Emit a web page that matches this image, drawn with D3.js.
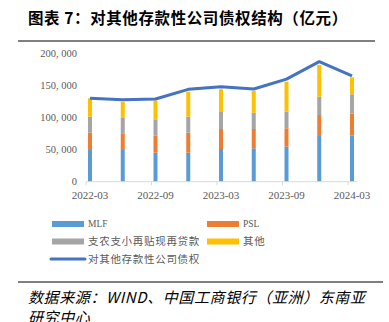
<!DOCTYPE html>
<html>
<head>
<meta charset="utf-8">
<style>
	body { margin: 0; background: #fff; }
	#chart { position: absolute; left: 0; top: 0; }
	text { font-family: "Liberation Serif", "DejaVu Serif", serif; }
	.cjk { font-family: "Noto Sans CJK SC", sans-serif; }
</style>
<script src="https://d3js.org/d3.v7.min.js"></script>
</head>
<body>
<div id="chart"></div>
<script>
	// Data (亿元)
	const quarters = ["2022-03", "2022-06", "2022-09", "2022-12", "2023-03", "2023-06", "2023-09", "2023-12", "2024-03"];
	const tickLabels = ["2022-03", "2022-09", "2023-03", "2023-09", "2024-03"];
	const mlf   = [49300, 49300, 45100, 45100, 50800, 51900, 54400, 71000, 71500];
	const psl   = [26800, 25900, 26400, 31000, 31100, 30000, 28600, 32600, 34200];
	const relend = [24900, 24800, 24400, 24900, 26400, 25300, 25800, 28500, 30100];
	const other = [28600, 24300, 30100, 38900, 35300, 33800, 46600, 49200, 26400];
	const total = [129600, 127400, 128500, 143500, 147500, 144000, 159500, 186500, 164300];
	const yTicks = [0, 50000, 100000, 150000, 200000];

	const seriesNames = ["MLF", "PSL", "支农支小再贴现再贷款", "其他"];
	const seriesColors = ["#5B9BD5", "#ED7D31", "#A5A5A5", "#FFC000"];
	const lineName = "对其他存款性公司债权";
	const lineColor = "#4472C4";

	const W = 389, H = 322;
	const svg = d3.select("#chart").append("svg")
		.attr("width", W).attr("height", H);

	// title
	svg.append("text").attr("class", "cjk")
		.attr("x", 28).attr("y", 24)
		.attr("font-size", "15.5px").attr("font-weight", "bold")
		.attr("letter-spacing", "0.6px")
		.attr("fill", "#000")
		.text("图表 7：对其他存款性公司债权结构（亿元）");
	svg.append("line")
		.attr("x1", 18).attr("x2", 375).attr("y1", 41).attr("y2", 41)
		.attr("stroke", "#555").attr("stroke-width", 1.5);

	// scales
	const x = d3.scalePoint().domain(quarters).range([90, 352]);
	const y = d3.scaleLinear().domain([0, 200000]).range([181.7, 53]);

	// y labels
	svg.selectAll(".ylab").data(yTicks).enter().append("text")
		.attr("x", 77).attr("y", d => y(d)).attr("dy", "0.35em")
		.attr("text-anchor", "end").attr("font-size", "10.5px").attr("fill", "#595959")
		.text(d => d3.format(",")(d).replace(",", ", "));

	// stacked bars
	const rows = quarters.map((q, i) => ({q: q, s0: mlf[i], s1: psl[i], s2: relend[i], s3: other[i]}));
	const stack = d3.stack().keys(["s0", "s1", "s2", "s3"])(rows);
	const barW = 4;
	svg.selectAll(".layer").data(stack).enter().append("g")
		.attr("fill", (d, i) => seriesColors[i])
		.selectAll("rect").data(d => d).enter().append("rect")
		.attr("x", d => x(d.data.q) - barW / 2)
		.attr("y", d => y(d[1]))
		.attr("width", barW)
		.attr("height", d => y(d[0]) - y(d[1]));

	// x axis
	const x0 = y(0);
	svg.append("line")
		.attr("x1", x(quarters[0]) - 4).attr("x2", x(quarters[quarters.length - 1]) + 5)
		.attr("y1", x0).attr("y2", x0)
		.attr("stroke", "#d9d9d9").attr("stroke-width", 1);
	svg.selectAll(".xtick").data(tickLabels).enter().append("line")
		.attr("x1", d => x(d) - 4).attr("x2", d => x(d) - 4)
		.attr("y1", x0).attr("y2", x0 + 3.5)
		.attr("stroke", "#d9d9d9");
	svg.selectAll(".xlab").data(tickLabels).enter().append("text")
		.attr("x", d => x(d)).attr("y", 195).attr("dy", "0.35em")
		.attr("text-anchor", "middle").attr("font-size", "11px").attr("fill", "#595959")
		.text(d => d);

	// total line
	const line = d3.line().x((d, i) => x(quarters[i])).y(d => y(d));
	svg.append("path").datum(total)
		.attr("d", line).attr("fill", "none")
		.attr("stroke", lineColor).attr("stroke-width", 3)
		.attr("stroke-linejoin", "round");

	// legend
	const legendPos = [[52, 224], [207, 224], [52, 241.5], [207, 241.5]];
	seriesNames.forEach((name, i) => {
		const p = legendPos[i];
		svg.append("rect").attr("x", p[0]).attr("y", p[1] - 3)
			.attr("width", 32).attr("height", 6).attr("fill", seriesColors[i]);
		const t = svg.append("text").attr("x", p[0] + 36).attr("y", p[1]).attr("dy", "0.35em")
			.attr("fill", "#595959").text(name);
		if (/[A-Z]/.test(name)) t.attr("font-size", "9.5px");
		else t.attr("class", "cjk").attr("font-size", "10.5px").attr("letter-spacing", "0.7px");
	});
	svg.append("line").attr("x1", 51).attr("x2", 85).attr("y1", 259).attr("y2", 259)
		.attr("stroke", lineColor).attr("stroke-width", 3).attr("stroke-linecap", "round");
	svg.append("text").attr("class", "cjk").attr("x", 88).attr("y", 259).attr("dy", "0.35em")
		.attr("font-size", "10.5px").attr("letter-spacing", "0.7px").attr("fill", "#595959")
		.text(lineName);

	// source
	svg.append("line")
		.attr("x1", 18).attr("x2", 383).attr("y1", 282).attr("y2", 282)
		.attr("stroke", "#000").attr("stroke-width", 1);
	svg.append("text").attr("class", "cjk")
		.attr("x", 28).attr("y", 303)
		.attr("font-size", "15px").attr("font-style", "italic")
		.attr("letter-spacing", "0.6px").attr("fill", "#000")
		.text("数据来源：WIND、中国工商银行（亚洲）东南亚");
	svg.append("text").attr("class", "cjk")
		.attr("x", 28).attr("y", 323)
		.attr("font-size", "15px").attr("font-style", "italic")
		.attr("letter-spacing", "0.6px").attr("fill", "#000")
		.text("研究中心");
</script>
</body>
</html>
